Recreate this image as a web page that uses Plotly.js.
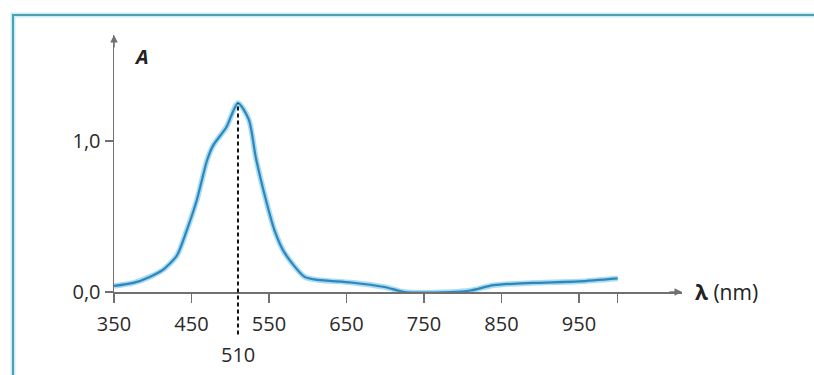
<!DOCTYPE html>
<html>
<head>
<meta charset="utf-8">
<script src="https://cdn.plot.ly/plotly-3.0.1.min.js"></script>
<style>
  html, body { margin: 0; padding: 0; background: #ffffff; }
  #chart { width: 814px; height: 375px; }
</style>
</head>
<body>
<div id="chart"></div>
<script>
// Data
const wavelength = [350, 375, 396, 414, 431, 444, 457, 470, 478, 495, 510, 524, 533, 546, 557, 570, 596, 613, 656, 699, 725, 785, 810, 840, 890, 950, 1000];
const absorbance = [0.04, 0.06, 0.10, 0.15, 0.24, 0.41, 0.61, 0.87, 0.97, 1.09, 1.25, 1.14, 0.89, 0.61, 0.41, 0.26, 0.10, 0.08, 0.063, 0.033, 0.0, 0.0, 0.01, 0.045, 0.06, 0.07, 0.09];

const xTickVals = [350, 450, 550, 650, 750, 850, 950, 1000];
const xTickText = ["350", "450", "550", "650", "750", "850", "950", ""];
const yTickVals = [0, 1];
const yTickText = ["0,0", "1,0"];

const xRange = [350, 1083];
const yRange = [0, 1.70];

const peakA = Math.max(...absorbance);
const peakLambda = wavelength[absorbance.indexOf(peakA)];

const axisColor = "#707070";
const textColor = "#2a2a2a";
const font = "Open Sans, Noto Sans, sans-serif";

const traces = [
  {
    x: wavelength, y: absorbance, type: "scatter", mode: "lines",
    line: { color: "rgba(130,205,240,0.7)", width: 5.5, shape: "spline", smoothing: 0.7 },
    hoverinfo: "skip", showlegend: false, cliponaxis: false
  },
  {
    x: wavelength, y: absorbance, type: "scatter", mode: "lines",
    line: { color: "#2f86b8", width: 2.2, shape: "spline", smoothing: 0.7 },
    showlegend: false, cliponaxis: false
  }
];

const layout = {
  width: 814, height: 375,
  margin: { l: 114, r: 132, t: 35, b: 83 },
  paper_bgcolor: "#ffffff",
  plot_bgcolor: "rgba(0,0,0,0)",
  font: { family: font, color: textColor, size: 20 },
  xaxis: {
    range: xRange, showgrid: false, zeroline: false,
    showline: true, linecolor: axisColor, linewidth: 1.5,
    ticks: "outside", ticklen: 9, tickwidth: 1.5, tickcolor: axisColor,
    tickvals: xTickVals, ticktext: xTickText, ticklabelstandoff: 4,
    tickfont: { family: font, size: 20, color: textColor },
    fixedrange: true
  },
  yaxis: {
    range: yRange, showgrid: false, zeroline: false,
    showline: true, linecolor: axisColor, linewidth: 1.5,
    ticks: "outside", ticklen: 8, tickwidth: 1.5, tickcolor: axisColor,
    tickvals: yTickVals, ticktext: yTickText,
    tickfont: { family: font, size: 20, color: textColor },
    fixedrange: true
  },
  shapes: [
    // frame glow
    { type: "rect", xref: "paper", yref: "paper", x0: -0.1778, x1: 2, y0: -1, y1: 1.078,
      line: { color: "rgba(150,225,240,0.55)", width: 5 }, layer: "below" },
    // frame
    { type: "rect", xref: "paper", yref: "paper", x0: -0.1778, x1: 2, y0: -1, y1: 1.078,
      line: { color: "#4f9fae", width: 2 }, layer: "below" },
    // dashed drop line at the peak
    { type: "line", xref: "x", yref: "paper", x0: peakLambda, x1: peakLambda,
      y0: -0.165, y1: peakA / yRange[1],
      line: { color: "#111111", width: 2, dash: "4px,3px" } }
  ],
  annotations: [
    // y-axis arrowhead
    { xref: "x", yref: "paper", x: xRange[0], y: 1, ax: 0, ay: 14, text: "",
      showarrow: true, arrowhead: 2, arrowsize: 1, arrowwidth: 1.5, arrowcolor: axisColor },
    // x-axis arrowhead
    { xref: "paper", yref: "y", x: 1, y: 0, ax: -14, ay: 0, text: "",
      showarrow: true, arrowhead: 2, arrowsize: 1, arrowwidth: 1.5, arrowcolor: axisColor },
    { xref: "paper", yref: "paper", x: 0.0317, y: 0.918, xanchor: "left", yanchor: "middle",
      text: "<b><i>A</i></b>", showarrow: false, font: { family: font, size: 20, color: "#222222" } },
    { xref: "paper", yref: "paper", x: 1.019, y: 0, xanchor: "left", yanchor: "middle",
      text: "<b>λ</b> (nm)", showarrow: false, font: { family: font, size: 21, color: "#222222" } },
    { xref: "x", yref: "paper", x: peakLambda, y: -0.245, xanchor: "center", yanchor: "middle",
      text: String(peakLambda), showarrow: false, font: { family: font, size: 20, color: textColor } }
  ]
};

Plotly.newPlot("chart", traces, layout, { displayModeBar: false, staticPlot: true });
</script>
</body>
</html>
